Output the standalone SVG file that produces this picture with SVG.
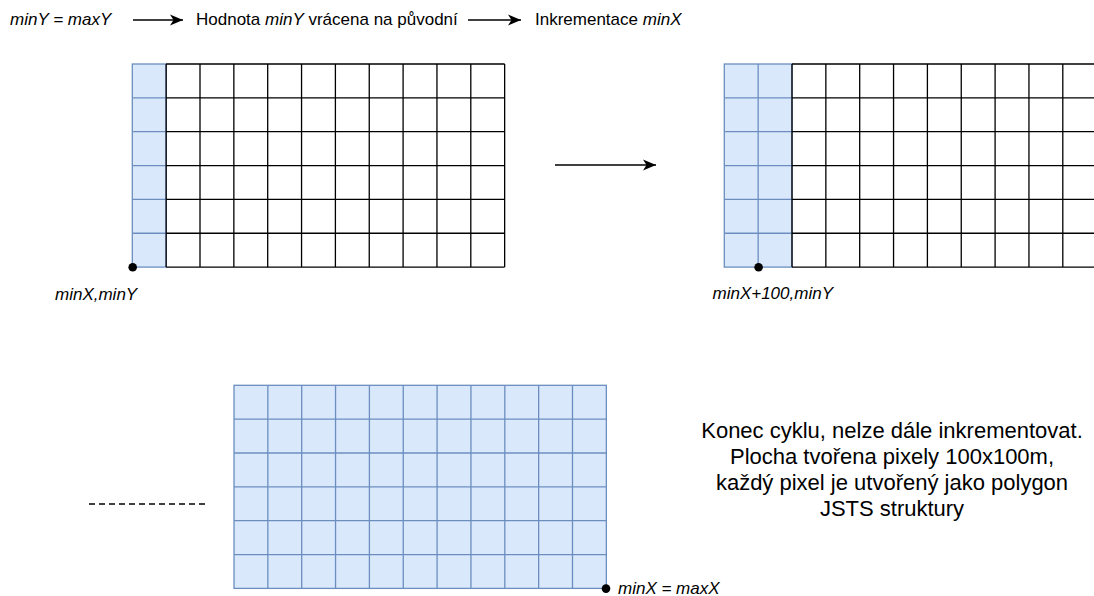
<svg xmlns="http://www.w3.org/2000/svg" width="1094" height="596" viewBox="0 0 1094 596">
  <style>
    .lbl { font-family: "Liberation Sans", Arial, sans-serif; font-size: 17px; fill: #000; }
    .it { font-style: italic; }
    .note { font-family: "Liberation Sans", Arial, sans-serif; font-size: 22px; fill: #000; text-anchor: middle; }
    .blue { fill: #dae8fc; stroke: #6c8ebf; stroke-width: 1.3; }
    .bline { fill: none; stroke: #6c8ebf; stroke-width: 1.3; }
    .kline { fill: none; stroke: #000; stroke-width: 1.3; }
    .white { fill: #fff; }
    .conn { fill: none; stroke: #000; stroke-width: 1.5; }
    .dot { fill: #000; }
  </style>
  <defs>
    <marker id="head" markerUnits="userSpaceOnUse" markerWidth="16" markerHeight="14" refX="14" refY="7" orient="auto">
      <path d="M1,1.5 L14,7 L1,12.5 L4.5,7 Z" fill="#000"/>
    </marker>
  </defs>

  <rect width="1094" height="596" fill="#fff"/>

  <!-- header sequence -->
  <g id="step-minY-maxY">
    <text class="lbl it" x="10" y="25">minY = maxY</text>
  </g>
  <g id="step-minY-reset">
    <text class="lbl" x="196" y="25">Hodnota <tspan class="it">minY</tspan> vrácena na původní</text>
  </g>
  <g id="step-increment">
    <text class="lbl" x="535" y="25">Inkrementace <tspan class="it">minX</tspan></text>
  </g>

  <!-- first pass: one column filled -->
  <g id="grid-first">
    <rect class="white" x="166.15" y="64" width="338.5" height="203.1"/>
    <rect class="blue" x="132.3" y="64" width="33.85" height="203.1"/>
    <path class="bline" d="M132.3 97.85H166.15M132.3 131.7H166.15M132.3 165.55H166.15M132.3 199.4H166.15M132.3 233.25H166.15"/>
    <path class="kline" d="M166.15 64V267.1M200 64V267.1M233.85 64V267.1M267.7 64V267.1M301.55 64V267.1M335.4 64V267.1M369.25 64V267.1M403.1 64V267.1M436.95 64V267.1M470.8 64V267.1M504.65 64V267.1
      M166.15 64H504.65M166.15 97.85H504.65M166.15 131.7H504.65M166.15 165.55H504.65M166.15 199.4H504.65M166.15 233.25H504.65M166.15 267.1H504.65"/>
    <circle class="dot" cx="132.7" cy="267.2" r="4.3"/>
    <text class="lbl it" x="55" y="300">minX,minY</text>
  </g>

  <!-- second pass: two columns filled -->
  <g id="grid-second">
    <rect class="white" x="792" y="64" width="310" height="203.1"/>
    <rect class="blue" x="724.3" y="64" width="67.7" height="203.1"/>
    <path class="bline" d="M758.15 64V267.1M724.3 97.85H792M724.3 131.7H792M724.3 165.55H792M724.3 199.4H792M724.3 233.25H792"/>
    <path class="kline" d="M792 64V267.1M825.85 64V267.1M859.7 64V267.1M893.55 64V267.1M927.4 64V267.1M961.25 64V267.1M995.1 64V267.1M1028.95 64V267.1M1062.8 64V267.1
      M792 64H1100M792 97.85H1100M792 131.7H1100M792 165.55H1100M792 199.4H1100M792 233.25H1100M792 267.1H1100"/>
    <circle class="dot" cx="758.6" cy="267.2" r="4.3"/>
    <text class="lbl it" x="712.5" y="299">minX+100,minY</text>
  </g>

  <!-- final state: whole area filled -->
  <g id="grid-final">
    <rect class="blue" x="234" y="385.3" width="372.35" height="203.1"/>
    <path class="bline" d="M267.85 385.3V588.4M301.7 385.3V588.4M335.55 385.3V588.4M369.4 385.3V588.4M403.25 385.3V588.4M437.1 385.3V588.4M470.95 385.3V588.4M504.8 385.3V588.4M538.65 385.3V588.4M572.5 385.3V588.4
      M234 419.15H606.35M234 453H606.35M234 486.85H606.35M234 520.7H606.35M234 554.55H606.35"/>
    <circle class="dot" cx="606" cy="588.6" r="4.3"/>
    <text class="lbl it" x="618" y="594">minX = maxX</text>
  </g>

  <g id="note-end">
    <text class="note" x="892" y="438">Konec cyklu, nelze dále inkrementovat.</text>
    <text class="note" x="892" y="464">Plocha tvořena pixely 100x100m,</text>
    <text class="note" x="892" y="490">každý pixel je utvořený jako polygon</text>
    <text class="note" x="892" y="516">JSTS struktury</text>
  </g>

  <!-- connectors -->
  <g id="connectors">
    <path class="conn" d="M133 20H183" marker-end="url(#head)"/>
    <path class="conn" d="M468 20H521" marker-end="url(#head)"/>
    <path class="conn" d="M555 165H656" marker-end="url(#head)"/>
    <path class="conn" d="M89 504H208" stroke-dasharray="6 4"/>
  </g>
</svg>
